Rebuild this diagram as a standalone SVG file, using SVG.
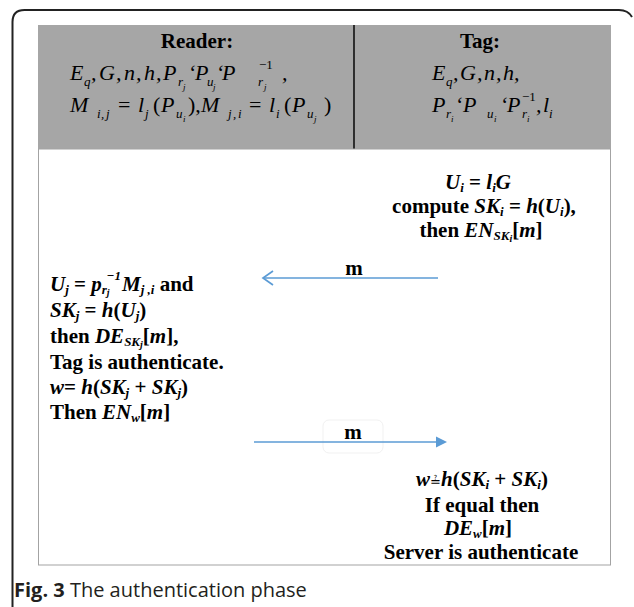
<svg xmlns="http://www.w3.org/2000/svg" width="634" height="607" viewBox="0 0 634 607">
  <style>
    .hb { font-family: "Liberation Serif", serif; font-weight: bold; font-size: 21px; fill: #000; }
    .hi { font-family: "Liberation Serif", serif; font-style: italic; font-size: 22px; fill: #000; }
    .hs { font-family: "Liberation Serif", serif; font-style: italic; font-size: 13px; fill: #000; }
    .hss { font-family: "Liberation Serif", serif; font-style: italic; font-size: 9px; fill: #000; }
    .hu { font-family: "Liberation Serif", serif; font-size: 22px; fill: #000; }
    .hsu { font-family: "Liberation Serif", serif; font-size: 13px; fill: #000; }
    .b { font-family: "Liberation Serif", serif; font-weight: bold; font-size: 21px; fill: #000; }
    .bi { font-style: italic; }
    .bs { font-style: italic; font-size: 13px; }
    .bss { font-style: italic; font-size: 10px; }
    .c { text-anchor: middle; }
    .cap { font-family: "Open Sans", "Liberation Sans", sans-serif; font-size: 20px; fill: #231f20; }
    .msg { stroke: #5b9bd5; stroke-width: 1.7; fill: none; }
  </style>

  <!-- outer figure frame -->
  <path d="M12.5,607 V22 Q12.5,10 24.5,10 H619 Q628,10 632,17" fill="none" stroke="#222" stroke-width="2"/>

  <!-- header band with the two parties -->
  <g id="header">
    <rect x="38" y="25" width="573" height="124" fill="#a6a6a6"/>
    <line x1="354" y1="25" x2="354" y2="149" stroke="#111" stroke-width="1.6"/>
  </g>

  <!-- protocol body -->
  <rect x="38.5" y="149" width="572" height="416" fill="#fff" stroke="#a3a3a3" stroke-width="1"/>

  <g id="reader-params">
    <text class="hb c" x="197" y="48">Reader:</text>
    <!-- E_q, G, n, h, P_rj ‘ P_uj ‘ P_rj^-1 , -->
    <text class="hi" y="80"><tspan x="70">E</tspan><tspan x="91">,</tspan><tspan x="99">G</tspan><tspan x="116">,</tspan><tspan x="124">n</tspan><tspan x="136">,</tspan><tspan x="144">h</tspan><tspan x="156">,</tspan><tspan x="163">P</tspan><tspan x="188">‘</tspan><tspan x="195">P</tspan><tspan x="216">‘</tspan><tspan x="222">P</tspan><tspan x="282">,</tspan></text>
    <text class="hs" y="86"><tspan x="84">q</tspan><tspan x="178">r</tspan><tspan x="207">u</tspan><tspan x="258">r</tspan></text>
    <text class="hss" y="90"><tspan x="183">j</tspan><tspan x="213">j</tspan><tspan x="264">j</tspan></text>
    <text class="hsu" x="259" y="69">−1</text>
    <!-- M_ij = l_j(P_ui), M_ji = l_i(P_uj) -->
    <text class="hi" y="112"><tspan x="70">M</tspan><tspan x="138">l</tspan><tspan x="161">P</tspan><tspan x="201">M</tspan><tspan x="269">l</tspan><tspan x="292">P</tspan></text>
    <text class="hu" y="112"><tspan x="118">=</tspan><tspan x="153">(</tspan><tspan x="188">),</tspan><tspan x="249">=</tspan><tspan x="284">(</tspan><tspan x="324">)</tspan></text>
    <text class="hs" y="118"><tspan x="97">i</tspan><tspan x="101">,</tspan><tspan x="106">j</tspan><tspan x="145">j</tspan><tspan x="176">u</tspan><tspan x="228">j</tspan><tspan x="233">,</tspan><tspan x="238">i</tspan><tspan x="276">i</tspan><tspan x="307">u</tspan></text>
    <text class="hss" y="122"><tspan x="183">i</tspan><tspan x="314">j</tspan></text>
  </g>

  <g id="tag-params">
    <text class="hb c" x="480" y="48">Tag:</text>
    <!-- E_q, G, n, h, -->
    <text class="hi" y="80"><tspan x="432">E</tspan><tspan x="453">,</tspan><tspan x="460">G</tspan><tspan x="477">,</tspan><tspan x="484">n</tspan><tspan x="496">,</tspan><tspan x="503">h</tspan><tspan x="514">,</tspan></text>
    <text class="hs" x="446" y="86">q</text>
    <!-- P_ri ‘ P_ui ‘ P_ri^-1 , l_i -->
    <text class="hi" y="112"><tspan x="432">P</tspan><tspan x="455">‘</tspan><tspan x="463">P</tspan><tspan x="500">‘</tspan><tspan x="507">P</tspan><tspan x="536">,</tspan><tspan x="543">l</tspan></text>
    <text class="hs" y="118"><tspan x="446">r</tspan><tspan x="487">u</tspan><tspan x="522">r</tspan><tspan x="549">i</tspan></text>
    <text class="hss" y="122"><tspan x="451">i</tspan><tspan x="494">i</tspan><tspan x="527">i</tspan></text>
    <text class="hsu" x="522" y="101">−1</text>
  </g>

  <g id="tag-step1">
    <text class="b c" x="478" y="189"><tspan class="bi">U</tspan><tspan class="bs" dy="3">i</tspan><tspan dy="-3"> = </tspan><tspan class="bi">l</tspan><tspan class="bs" dy="3">i</tspan><tspan class="bi" dy="-3">G</tspan></text>
    <text class="b c" x="484" y="213">compute <tspan class="bi">SK</tspan><tspan class="bs" dy="3">i</tspan><tspan dy="-3"> = </tspan><tspan class="bi">h</tspan>(<tspan class="bi">U</tspan><tspan class="bs" dy="3">i</tspan><tspan dy="-3">),</tspan></text>
    <text class="b c" x="481" y="237">then <tspan class="bi">EN</tspan><tspan class="bs" dy="3">SK</tspan><tspan class="bss" dy="2">i</tspan><tspan dy="-5">[</tspan><tspan class="bi">m</tspan>]</text>
  </g>

  <g id="reader-step">
    <text class="b" x="50" y="291"><tspan class="bi">U</tspan><tspan class="bs" dy="3">j</tspan><tspan dy="-3"> = </tspan><tspan class="bi">p</tspan><tspan class="bs" dy="3">r</tspan><tspan class="bss" dy="2">j</tspan><tspan class="bs" dx="-3" dy="-16">−1</tspan><tspan class="bi" dx="1" dy="11">M</tspan><tspan class="bs" dy="3">j ,i</tspan><tspan dy="-3"> and</tspan></text>
    <text class="b" x="50" y="317"><tspan class="bi">SK</tspan><tspan class="bs" dy="3">j</tspan><tspan dy="-3"> = </tspan><tspan class="bi">h</tspan>(<tspan class="bi">U</tspan><tspan class="bs" dy="3">j</tspan><tspan dy="-3">)</tspan></text>
    <text class="b" x="50" y="343">then <tspan class="bi">DE</tspan><tspan class="bs" dy="3">SK</tspan><tspan class="bss" dy="2">j</tspan><tspan dy="-5">[</tspan><tspan class="bi">m</tspan>],</text>
    <text class="b" x="50" y="369">Tag is authenticate.</text>
    <text class="b" x="50" y="394"><tspan class="bi">w</tspan>= <tspan class="bi">h</tspan>(<tspan class="bi">SK</tspan><tspan class="bs" dy="3">j</tspan><tspan dy="-3"> + </tspan><tspan class="bi">SK</tspan><tspan class="bs" dy="3">j</tspan><tspan dy="-3">)</tspan></text>
    <text class="b" x="50" y="419">Then <tspan class="bi">EN</tspan><tspan class="bs" dy="3">w</tspan><tspan dy="-3">[</tspan><tspan class="bi">m</tspan>]</text>
  </g>

  <g id="tag-step2">
    <text class="b c" x="482" y="486"><tspan class="bi">w</tspan><tspan font-family="DejaVu Serif, serif" font-size="13" font-weight="normal">≟</tspan><tspan class="bi">h</tspan>(<tspan class="bi">SK</tspan><tspan class="bs" dy="3">i</tspan><tspan dy="-3"> + </tspan><tspan class="bi">SK</tspan><tspan class="bs" dy="3">i</tspan><tspan dy="-3">)</tspan></text>
    <text class="b c" x="482" y="512">If equal then</text>
    <text class="b c" x="478" y="535"><tspan class="bi">DE</tspan><tspan class="bs" dy="3">w</tspan><tspan dy="-3">[</tspan><tspan class="bi">m</tspan>]</text>
    <text class="b c" x="481" y="559">Server is authenticate</text>
  </g>

  <!-- message connectors -->
  <g id="connectors">
    <line class="msg" x1="438" y1="278" x2="263" y2="278"/>
    <path class="msg" d="M273,271 L263,278 L273,285"/>
    <text class="b c" x="354" y="275">m</text>

    <rect x="323" y="420" width="60" height="33" rx="6" fill="none" stroke="#f1f1f1" stroke-width="1"/>
    <line class="msg" x1="254" y1="442" x2="438" y2="442"/>
    <polygon points="436,436.5 447,442 436,447.5" fill="#5b9bd5"/>
    <text class="b c" x="353" y="439">m</text>
  </g>

  <!-- caption -->
  <text class="cap" x="14" y="597"><tspan font-weight="bold">Fig. 3</tspan> The authentication phase</text>
</svg>
